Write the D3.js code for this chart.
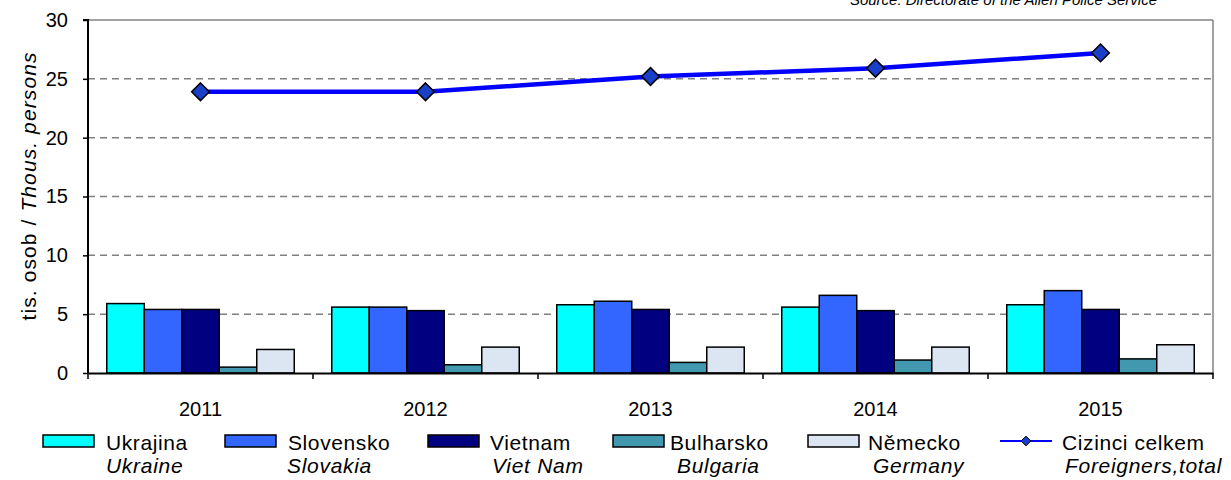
<!DOCTYPE html>
<html>
<head>
<meta charset="utf-8">
<script src="https://cdn.jsdelivr.net/npm/d3@7"></script>
<style>
  body { margin: 0; background: #fff; }
  text { font-family: Arial, "Liberation Sans", sans-serif; }
</style>
</head>
<body>
<div id="container"></div>
<script>
/* CONSTANTS AND GLOBALS */
const width = 1231,
  height = 480,
  margin = {top: 20, left: 88, bottom: 107, right: 18};

/* DATA */
const years = ["2011", "2012", "2013", "2014", "2015"];
const ukrajina = [5.9, 5.6, 5.8, 5.6, 5.8];
const slovensko = [5.4, 5.6, 6.1, 6.6, 7.0];
const vietnam = [5.4, 5.3, 5.4, 5.3, 5.4];
const bulharsko = [0.5, 0.7, 0.9, 1.1, 1.2];
const nemecko = [2.0, 2.2, 2.2, 2.2, 2.4];
const cizinciCelkem = [23.9, 23.9, 25.2, 25.9, 27.2];
const yTicks = [0, 5, 10, 15, 20, 25, 30];

const barSeries = [
  {cz: "Ukrajina", en: "Ukraine", values: ukrajina, color: "#00ffff"},
  {cz: "Slovensko", en: "Slovakia", values: slovensko, color: "#3366ff"},
  {cz: "Vietnam", en: "Viet Nam", values: vietnam, color: "#000080"},
  {cz: "Bulharsko", en: "Bulgaria", values: bulharsko, color: "#4198af"},
  {cz: "Německo", en: "Germany", values: nemecko, color: "#dce6f2"}
];

const svg = d3.select("#container")
  .append("svg")
  .attr("width", width)
  .attr("height", height);

// SCALES
const xScale = d3.scaleBand()
  .domain(years)
  .range([margin.left, width - margin.right]);

const xInner = d3.scaleBand()
  .domain(barSeries.map(d => d.cz))
  .range([0, xScale.bandwidth()])
  .paddingOuter(0.5);

const yScale = d3.scaleLinear()
  .domain([0, 30])
  .range([height - margin.bottom, margin.top]);

// gridlines
svg.append("g")
  .selectAll("line")
  .data(yTicks.filter(d => d > 0))
  .join("line")
  .attr("x1", margin.left)
  .attr("x2", width - margin.right)
  .attr("y1", d => yScale(d))
  .attr("y2", d => yScale(d))
  .attr("stroke", "#808080")
  .attr("stroke-width", 1.5)
  .attr("stroke-dasharray", d => d === 30 ? null : "7,5");

// right border
svg.append("line")
  .attr("x1", width - margin.right).attr("x2", width - margin.right)
  .attr("y1", yScale(30)).attr("y2", yScale(0))
  .attr("stroke", "#808080").attr("stroke-width", 1.5);

// BARS
const groups = svg.append("g")
  .selectAll("g")
  .data(years)
  .join("g")
  .attr("transform", d => `translate(${xScale(d)},0)`);

groups.selectAll("rect")
  .data((year, i) => barSeries.map(s => ({name: s.cz, value: s.values[i], color: s.color})))
  .join("rect")
  .attr("x", d => xInner(d.name))
  .attr("width", xInner.bandwidth())
  .attr("y", d => yScale(d.value))
  .attr("height", d => yScale(0) - yScale(d.value))
  .attr("fill", d => d.color)
  .attr("stroke", "#000")
  .attr("stroke-width", 1.5);

// AXES
const yAxis = d3.axisLeft(yScale).tickValues(yTicks).tickSize(5).tickPadding(15);
const yG = svg.append("g")
  .attr("transform", `translate(${margin.left},0)`)
  .call(yAxis);
yG.select(".domain").attr("stroke", "#000").attr("stroke-width", 2).attr("d", `M-5,${yScale(30)}H0V${yScale(0)}`);
yG.selectAll(".tick line").attr("stroke", "#000").attr("stroke-width", 1.5);
yG.selectAll(".tick text").attr("font-size", 20).attr("fill", "#000")
  .attr("font-family", "Arial, 'Liberation Sans', sans-serif");

const xAxis = d3.axisBottom(xScale).tickSize(0).tickPadding(29);
const xG = svg.append("g")
  .attr("transform", `translate(0,${yScale(0)})`)
  .call(xAxis);
xG.select(".domain").attr("stroke", "#000").attr("stroke-width", 2);
xG.selectAll(".tick text").attr("font-size", 20).attr("fill", "#000")
  .attr("font-family", "Arial, 'Liberation Sans', sans-serif");
// category separator ticks
svg.append("g")
  .selectAll("line")
  .data(years.concat(["end"]))
  .join("line")
  .attr("x1", (d, i) => i < years.length ? xScale(d) : width - margin.right)
  .attr("x2", (d, i) => i < years.length ? xScale(d) : width - margin.right)
  .attr("y1", yScale(0))
  .attr("y2", yScale(0) + 6)
  .attr("stroke", "#000")
  .attr("stroke-width", 1.5);

// LINE
const lineGen = d3.line()
  .x((d, i) => xScale(years[i]) + xScale.bandwidth() / 2)
  .y(d => yScale(d));

svg.append("path")
  .datum(cizinciCelkem)
  .attr("d", lineGen)
  .attr("fill", "none")
  .attr("stroke", "#0000ff")
  .attr("stroke-width", 4.5);

const diamond = d3.symbol().type(d3.symbolDiamond2).size(200);
svg.append("g")
  .selectAll("path")
  .data(cizinciCelkem)
  .join("path")
  .attr("transform", (d, i) => `translate(${xScale(years[i]) + xScale.bandwidth() / 2},${yScale(d)})`)
  .attr("d", diamond)
  .attr("fill", "#1a3fc8")
  .attr("stroke", "#000")
  .attr("stroke-width", 1.5);

// Y TITLE
const yTitle = svg.append("text")
  .attr("transform", `translate(36,186) rotate(-90)`)
  .attr("text-anchor", "middle")
  .attr("font-size", 21)
  .attr("letter-spacing", 1.1)
  .attr("fill", "#000");
yTitle.append("tspan").text("tis. osob / ");
yTitle.append("tspan").attr("font-style", "italic").text("Thous. persons");

// SOURCE
svg.append("text")
  .attr("x", 1157)
  .attr("y", 5)
  .attr("text-anchor", "end")
  .attr("font-size", 15)
  .attr("font-style", "italic")
  .attr("fill", "#000")
  .text("Source: Directorate of the Alien Police Service");

// LEGEND
const legendX = [43, 225, 428, 613, 808, 1000];
const legendTextX = [106, 288, 490, 670, 868, 1062];
const legendEnX = [106, 287, 492, 677, 873, 1065];
const legend = svg.append("g");

barSeries.forEach((s, i) => {
  legend.append("rect")
    .attr("x", legendX[i]).attr("y", 435)
    .attr("width", 51).attr("height", 12)
    .attr("fill", s.color).attr("stroke", "#000").attr("stroke-width", 1.5);
});
legend.append("line")
  .attr("x1", legendX[5]).attr("x2", legendX[5] + 52)
  .attr("y1", 441).attr("y2", 441)
  .attr("stroke", "#0000ff").attr("stroke-width", 2);
legend.append("path")
  .attr("transform", `translate(${legendX[5] + 26},441)`)
  .attr("d", d3.symbol().type(d3.symbolDiamond2).size(60))
  .attr("fill", "#1a3fc8").attr("stroke", "#000").attr("stroke-width", 1);

const czNames = barSeries.map(d => d.cz).concat(["Cizinci celkem"]);
const enNames = barSeries.map(d => d.en).concat(["Foreigners,total"]);

legend.selectAll("text.cz")
  .data(czNames)
  .join("text")
  .attr("class", "cz")
  .attr("x", (d, i) => legendTextX[i])
  .attr("y", 450)
  .attr("font-size", 21)
  .attr("letter-spacing", 0.6)
  .attr("fill", "#000")
  .text(d => d);

legend.selectAll("text.en")
  .data(enNames)
  .join("text")
  .attr("class", "en")
  .attr("x", (d, i) => legendEnX[i])
  .attr("y", 473)
  .attr("font-size", 21)
  .attr("font-style", "italic")
  .attr("letter-spacing", 0.7)
  .attr("fill", "#000")
  .text(d => d);
</script>
</body>
</html>
